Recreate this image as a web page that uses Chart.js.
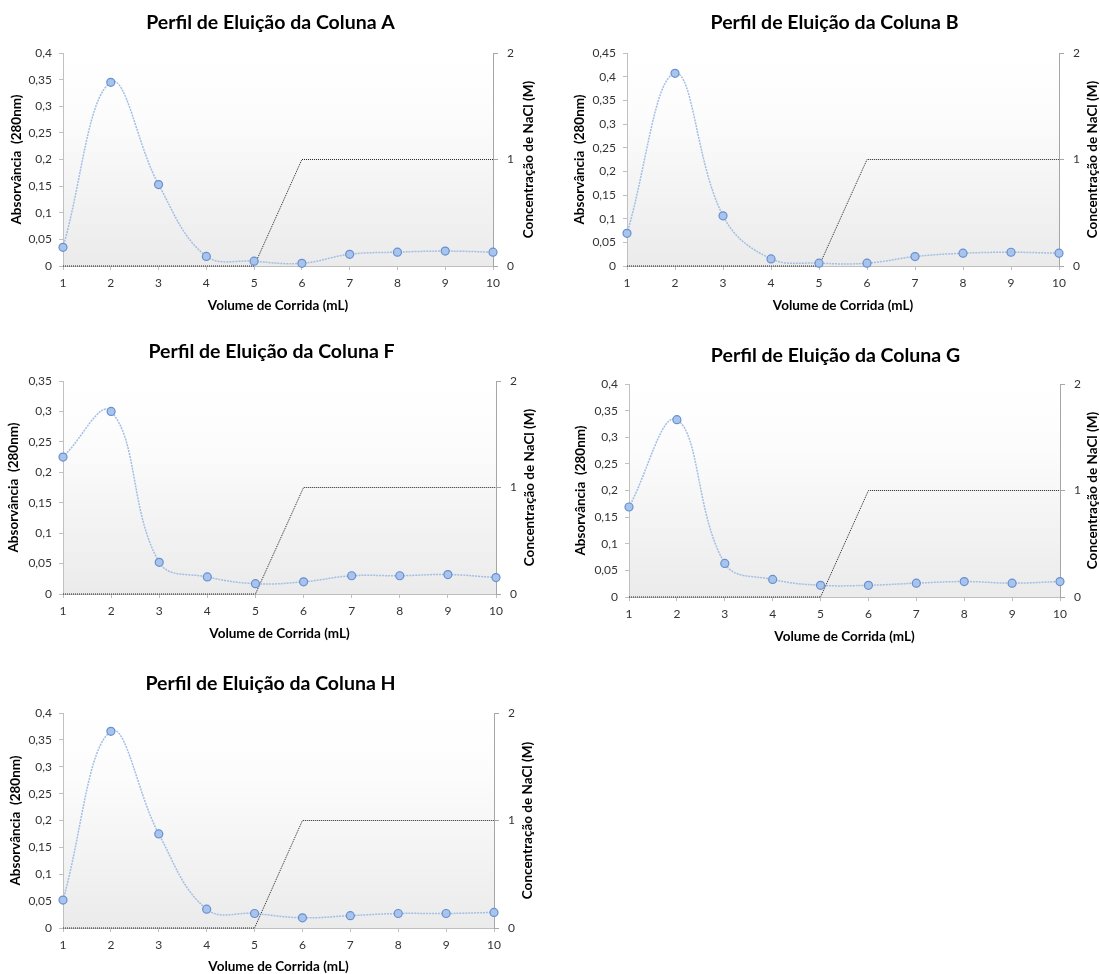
<!DOCTYPE html>
<html>
<head>
<meta charset="utf-8">
<script src="https://cdn.jsdelivr.net/npm/chart.js@4.4.1/dist/chart.umd.min.js"></script>
<style>
  html, body { margin: 0; padding: 0; background: #ffffff; overflow: hidden; }
  body { width: 1100px; height: 974px; position: relative; }
  canvas { position: absolute; }
</style>
</head>
<body>
<script>
// ---- Data ----
const volumes = ['1', '2', '3', '4', '5', '6', '7', '8', '9', '10'];
const naclConc = [0, 0, 0, 0, 0, 1, 1, 1, 1, 1];
const absColunaA = [0.035, 0.345, 0.153, 0.018, 0.009, 0.005, 0.022, 0.026, 0.028, 0.026];
const absColunaB = [0.069, 0.407, 0.106, 0.015, 0.006, 0.006, 0.020, 0.027, 0.029, 0.027];
const absColunaF = [0.225, 0.300, 0.052, 0.028, 0.017, 0.020, 0.030, 0.030, 0.032, 0.027];
const absColunaG = [0.169, 0.333, 0.063, 0.033, 0.022, 0.022, 0.026, 0.029, 0.026, 0.029];
const absColunaH = [0.052, 0.366, 0.175, 0.035, 0.027, 0.019, 0.023, 0.027, 0.027, 0.029];
const colunas = ['A', 'B', 'F', 'G', 'H'];
const absSeries = [absColunaA, absColunaB, absColunaF, absColunaG, absColunaH];
const absMax = [0.4, 0.45, 0.35, 0.4, 0.4];
const absStep = 0.05;
const naclMax = 2;
const naclStep = 1;
const titlePrefix = 'Perfil de Eluição da Coluna ';
const xTitle = 'Volume de Corrida (mL)';
const yTitle = 'Absorvância  (280nm)';
const y1Title = 'Concentração de NaCl (M)';

// ---- Layout (positions only) ----
const layouts = [
  {cx: 0,   cy: 0,   cw: 550, ch: 320, pl: 0,  pr: 9, yW: 63, y1W: 48, xH: 54, tT: 11.3, tB: 18.3, yTP: 8.9, xTP: 6.4, rOff: 36},
  {cx: 560, cy: 0,   cw: 540, ch: 320, pl: 9,  pr: 0, yW: 58, y1W: 41, xH: 54, tT: 10.8, tB: 18.8, yTP: 2.9, xTP: 6.2, rOff: 34},
  {cx: 0,   cy: 330, cw: 550, ch: 320, pl: 0,  pr: 7, yW: 63, y1W: 47, xH: 56, tT: 10.3, tB: 17.3, yTP: 5.7, xTP: 7.9, rOff: 34},
  {cx: 560, cy: 330, cw: 540, ch: 320, pl: 11, pr: 0, yW: 58, y1W: 40, xH: 53, tT: 13.8, tB: 16.8, yTP: 1.9, xTP: 5.2, rOff: 33},
  {cx: 0,   cy: 660, cw: 550, ch: 320, pl: 0,  pr: 9, yW: 63, y1W: 47, xH: 52, tT: 12.3, tB: 17.3, yTP: 7.4, xTP: 5.2, rOff: 34}
];

Chart.defaults.font.family = 'Lato, "Open Sans", sans-serif';
Chart.defaults.color = '#333333';

const plotBackground = {
  id: 'plotBackground',
  beforeDraw(chart) {
    const {ctx, chartArea} = chart;
    const {left, top, right, bottom} = chartArea;
    const g = ctx.createLinearGradient(0, top, 0, bottom);
    g.addColorStop(0, '#ffffff');
    g.addColorStop(0.3, '#fcfcfc');
    g.addColorStop(1, '#ebebeb');
    ctx.save();
    ctx.fillStyle = g;
    ctx.fillRect(left, top, right - left, bottom - top);
    ctx.restore();
  }
};

const rightTitle = {
  id: 'rightTitle',
  afterDraw(chart, args, opts) {
    const {ctx, chartArea} = chart;
    ctx.save();
    ctx.translate(chartArea.right + opts.offset, (chartArea.top + chartArea.bottom) / 2);
    ctx.rotate(-Math.PI / 2);
    ctx.font = 'bold 13.5px Lato, "Open Sans", sans-serif';
    ctx.fillStyle = '#000000';
    ctx.textAlign = 'center';
    ctx.textBaseline = 'middle';
    ctx.fillText(opts.text, 0, 0);
    ctx.restore();
  }
};

function fmtComma(v) {
  return String(+Number(v).toFixed(2)).replace('.', ',');
}

colunas.forEach((col, i) => {
  const L = layouts[i];
  const canvas = document.createElement('canvas');
  canvas.width = L.cw;
  canvas.height = L.ch;
  canvas.style.left = L.cx + 'px';
  canvas.style.top = L.cy + 'px';
  canvas.style.width = L.cw + 'px';
  canvas.style.height = L.ch + 'px';
  document.body.appendChild(canvas);

  new Chart(canvas, {
    type: 'line',
    data: {
      labels: volumes,
      datasets: [
        {
          label: 'Absorvância',
          data: absSeries[i],
          yAxisID: 'y',
          borderColor: '#a3bee4',
          borderWidth: 1.5,
          borderDash: [2, 1],
          tension: 0.4,
          pointRadius: 4,
          pointBorderWidth: 1.2,
          pointBackgroundColor: '#a9c4ec',
          pointBorderColor: '#6690cf',
          clip: false
        },
        {
          label: 'NaCl',
          data: naclConc,
          yAxisID: 'y1',
          borderColor: '#222222',
          borderWidth: 1,
          borderDash: [1, 1],
          tension: 0,
          pointRadius: 0,
          clip: false
        }
      ]
    },
    options: {
      responsive: false,
      animation: false,
      devicePixelRatio: 1,
      layout: {padding: {left: L.pl, right: L.pr, top: 0, bottom: 0}},
      plugins: {
        legend: {display: false},
        tooltip: {enabled: false},
        title: {
          display: true,
          text: titlePrefix + col,
          color: '#000000',
          font: {size: 19.5, weight: 'bold'},
          padding: {top: L.tT, bottom: L.tB}
        },
        rightTitle: {text: y1Title, offset: L.rOff}
      },
      scales: {
        x: {
          type: 'category',
          offset: false,
          grid: {display: true, drawOnChartArea: false, drawTicks: true, tickLength: 4, color: '#bfbfbf'},
          border: {display: true, color: '#bfbfbf'},
          ticks: {padding: 6, font: {size: 12}, color: '#333333', maxRotation: 0, autoSkip: false},
          title: {display: true, text: xTitle, color: '#000000', font: {size: 13.5, weight: 'bold'}, padding: {top: 0, bottom: L.xTP}},
          afterFit(scale) { scale.height = L.xH; }
        },
        y: {
          position: 'left',
          min: 0,
          max: absMax[i],
          grid: {display: true, drawOnChartArea: false, drawTicks: true, tickLength: 4, color: '#c0c0c0'},
          border: {display: true, color: '#c0c0c0'},
          ticks: {stepSize: absStep, padding: 7, font: {size: 12}, color: '#333333', callback: (v) => fmtComma(v)},
          title: {display: true, text: yTitle, color: '#000000', font: {size: 13.5, weight: 'bold'}, padding: {top: L.yTP, bottom: 0}},
          afterFit(scale) { scale.width = L.yW; }
        },
        y1: {
          position: 'right',
          min: 0,
          max: naclMax,
          grid: {display: true, drawOnChartArea: false, drawTicks: true, tickLength: 5, color: '#a6a6a6'},
          border: {display: true, color: '#a6a6a6'},
          ticks: {stepSize: naclStep, padding: 9, font: {size: 12}, color: '#333333'},
          afterFit(scale) { scale.width = L.y1W; }
        }
      }
    },
    plugins: [plotBackground, rightTitle]
  });
});
</script>
</body>
</html>
